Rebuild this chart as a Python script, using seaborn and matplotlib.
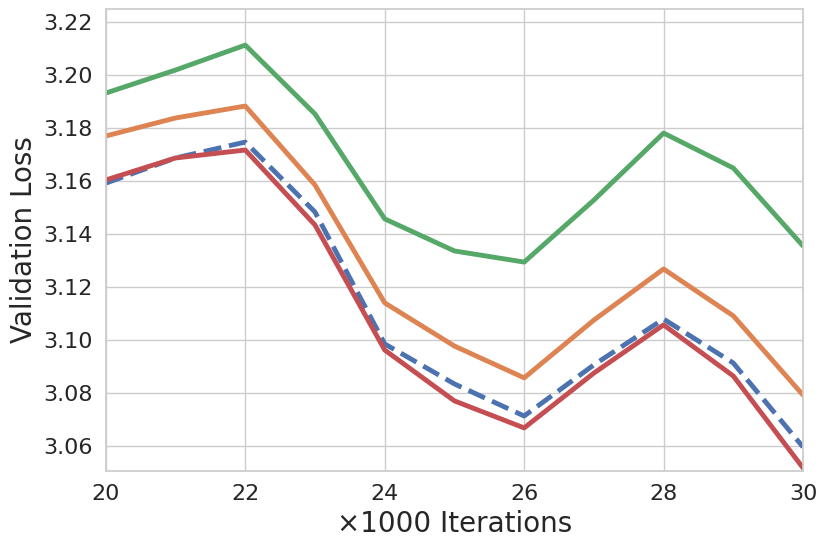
import matplotlib
matplotlib.use("Agg")
import matplotlib.pyplot as plt
import seaborn as sns
import pandas as pd

# Values
iters = [20, 21, 22, 23, 24, 25, 26, 27, 28, 29, 30]
blue_loss = [3.1592, 3.1687, 3.1747, 3.1483, 3.0985, 3.0834, 3.0713, 3.0906, 3.1079, 3.0913, 3.0596]
orange_loss = [3.1770, 3.1838, 3.1883, 3.1585, 3.1140, 3.0977, 3.0857, 3.1075, 3.1268, 3.1091, 3.0792]
green_loss = [3.1932, 3.2019, 3.2113, 3.1853, 3.1457, 3.1336, 3.1294, 3.1528, 3.1781, 3.1649, 3.1355]
red_loss = [3.1604, 3.1687, 3.1717, 3.1434, 3.0962, 3.0770, 3.0668, 3.0875, 3.1057, 3.0864, 3.0517]

sns.set_theme(style="whitegrid")
pal = sns.color_palette("deep")

fig, ax = plt.subplots(figsize=(8.27, 5.51), dpi=100)
fig.subplots_adjust(left=0.128, right=0.971, top=0.984, bottom=0.145)

series = [(blue_loss, pal[0], "--"), (orange_loss, pal[1], "-"),
          (green_loss, pal[2], "-"), (red_loss, pal[3], "-")]
for vals, col, ls in series:
    df = pd.DataFrame({"it": iters, "loss": vals})
    sns.lineplot(data=df, x="it", y="loss", ax=ax, color=col, linestyle=ls, linewidth=3.5)

ax.set_xlim(20, 30)
ax.set_ylim(3.0505, 3.225)
ax.set_xticks([20, 22, 24, 26, 28, 30])
ax.set_yticks([3.06, 3.08, 3.10, 3.12, 3.14, 3.16, 3.18, 3.20, 3.22])
ax.tick_params(labelsize=16)
ax.set_xlabel("×1000 Iterations", fontsize=20)
ax.set_ylabel("Validation Loss", fontsize=20)

fig.savefig("out.png", dpi=100)
